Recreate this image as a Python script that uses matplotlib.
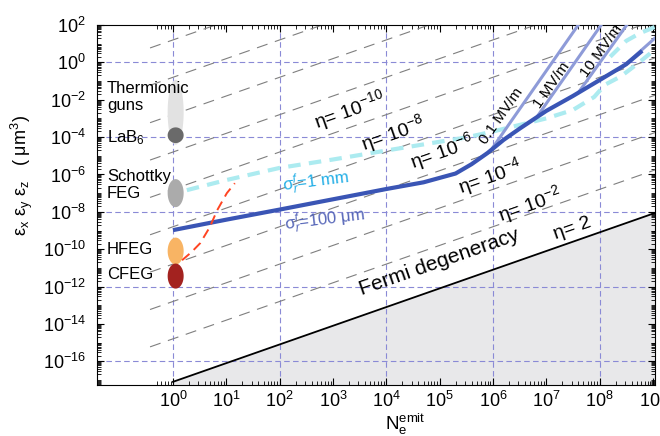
import numpy as np
import matplotlib.pyplot as plt
from matplotlib.ticker import FixedLocator, LogLocator, NullFormatter

plt.rcParams['font.family'] = ['Liberation Sans', 'DejaVu Sans']
plt.rcParams['mathtext.fontset'] = 'custom'
plt.rcParams['mathtext.rm'] = 'Liberation Sans'
plt.rcParams['mathtext.it'] = 'Liberation Sans:italic'
plt.rcParams['mathtext.bf'] = 'Liberation Sans:bold'

# all values are log10 exponents
# sigma_r = 100 um (thick blue)
blue_logN = [0, 1, 2, 3, 4, 4.7, 5.3, 5.6, 5.9, 6.2, 6.5, 7.0, 7.5, 8.0, 8.5, 8.8]
blue_logE = [-8.98, -8.42, -7.88, -7.33, -6.78, -6.42, -5.95, -5.45, -4.85,
             -4.15, -3.55, -2.6, -1.8, -0.95, -0.1, 0.62]

# sigma_r = 1 mm (cyan dashed)
cyan_logN = [0.26, 1, 2, 3, 4, 5, 5.5, 6.0, 6.5, 7.0, 7.5, 7.9, 8.1, 8.4, 8.7, 8.95]
cyan_logE = [-6.84, -6.3, -5.65, -5.2, -4.72, -4.25, -4.02, -3.7, -3.35, -3.0,
             -2.55, -1.85, -1.2, -0.75, -0.1, 0.48]
cyan2_logN = [8.2, 8.5, 8.75, 9.04]
cyan2_logE = [0.3, 1.15, 1.55, 1.9]

# extraction field lines (light blue)
field_names = ['0.1 MV/m', '1 MV/m', '10 MV/m', '']
field_logN = [[6.0, 7.6], [6.85, 8.03], [7.62, 8.51], [8.45, 9.04]]
field_logE = [[-4.55, 2.0], [-2.82, 2.0], [-1.55, 2.0], [-0.2, 1.3]]
field_label_pos = [(6.15, -2.89), (7.11, -1.23), (8.03, 0.64)]

# red dashed
red_logN = [0.17, 0.35, 0.51, 0.69, 0.83, 1.01, 1.16]
red_logE = [-10.59, -10.15, -9.68, -8.82, -7.91, -7.0, -6.47]

# degeneracy lines
fermi_logE0 = -17.1
eta_exps = [-2, -4, -6, -8, -10, -12, -14, -16, -18]
eta_texts = ['η= 10$^{-10}$', 'η= 10$^{-8}$', 'η= 10$^{-6}$',
             'η= 10$^{-4}$', 'η= 10$^{-2}$', 'η= 2']
eta_text_pos = [(3.32, -2.57), (4.13, -3.8), (5.04, -4.8),
                (5.94, -6.15), (6.69, -7.65), (7.5, -8.9)]

# electron sources
src_names = ['Thermionic\nguns', 'LaB$_6$', 'Schottky\nFEG', 'HFEG', 'CFEG']
src_logE = [-2.67, -3.9, -7.0, -10.1, -11.44]
src_half_h = [1.74, 0.42, 0.75, 0.72, 0.67]
src_colors = ['#e2e2e2', '#6a6a6a', '#ababab', '#f8b464', '#a3221f']
src_text_logE = [-1.87, -4.01, -6.58, -10.0, -11.34]

fig = plt.figure(figsize=(6.6, 4.36), dpi=100)
ax = fig.add_axes([97 / 660, 51 / 436, 558 / 660, 360 / 436])
ax.set_xscale('log')
ax.set_yscale('log')
ax.set_xlim(10**-1.425, 10**9.04)
ax.set_ylim(10**-17.27, 10**2.0)

def slope_angle(n1, e1, n2, e2):
    p1 = ax.transData.transform((10**n1, 10**e1))
    p2 = ax.transData.transform((10**n2, 10**e2))
    return np.degrees(np.arctan2(p2[1] - p1[1], p2[0] - p1[0]))

# grid
for gx in [0, 2, 4, 6, 8]:
    ax.axvline(10**gx, color='#8a8ad6', ls=(0, (5, 3)), lw=0.8, zorder=1)
for gy in [0, -4, -8, -12, -16]:
    ax.axhline(10**gy, color='#8a8ad6', ls=(0, (5, 3)), lw=0.8, zorder=1)

# Fermi degeneracy region
N = np.logspace(0, 9.04, 60)
ax.fill_between(N, 1e-20, 10**fermi_logE0 * N, color='#e8e8ea', zorder=0)
ax.plot(N, 10**fermi_logE0 * N, color='black', lw=1.3, zorder=3)

# eta lines
Ne = np.logspace(-0.43, 9.04, 60)
for e in eta_exps:
    ax.plot(Ne, 10**(fermi_logE0 + np.log10(2) - e) * Ne, color='#7f7f7f',
            lw=0.8, ls=(0, (10, 7)), zorder=2)

ang = slope_angle(0, 0, 1, 1)
for txt, (xn, ye) in zip(eta_texts, eta_text_pos):
    ax.text(10**xn, 10**ye, txt, fontsize=14, rotation=ang, rotation_mode='anchor',
            ha='center', va='center', zorder=6)
ax.text(10**5.0, 10**-10.7, 'Fermi degeneracy', fontsize=15, rotation=ang,
        rotation_mode='anchor', ha='center', va='center', zorder=6)

# sources
t = np.linspace(0, 2 * np.pi, 120)
for name, cy, hh, c, ty in zip(src_names, src_logE, src_half_h, src_colors, src_text_logE):
    ax.fill(10**(0.05 + 0.15 * np.cos(t)), 10**(cy + hh * np.sin(t)), color=c,
            lw=0, zorder=4)
    ax.text(10**-1.24, 10**ty, name, fontsize=12, ha='left', va='center',
            linespacing=1.2, zorder=6)

# curves
ax.plot(10**np.array(cyan_logN), 10**np.array(cyan_logE), color='#acebf0', lw=3,
        ls=(0, (3, 2)), zorder=4)
ax.plot(10**np.array(cyan2_logN), 10**np.array(cyan2_logE), color='#acebf0', lw=3,
        ls=(0, (3, 2)), zorder=4)
for xs, ys in zip(field_logN, field_logE):
    ax.plot(10**np.array(xs), 10**np.array(ys), color='#8e9bd8', lw=2.2, zorder=4)
ax.plot(10**np.array(blue_logN), 10**np.array(blue_logE), color='#3a55b5', lw=3,
        zorder=5, solid_capstyle='butt')
ax.plot(10**np.array(red_logN), 10**np.array(red_logE), color='#ff4422', lw=1.4,
        ls=(0, (5, 3)), zorder=5)

for name, xs, ys, (lx, ly) in zip(field_names, field_logN, field_logE, field_label_pos):
    a = slope_angle(xs[0], ys[0], xs[1], ys[1])
    ax.text(10**lx, 10**ly, name, fontsize=11, rotation=a, rotation_mode='anchor',
            ha='center', va='center', zorder=6)

ax.text(10**2.67, 10**-6.4, 'σ$_r^{f}$=1 mm', color='#22aee6', fontsize=12,
        rotation=7, rotation_mode='anchor', ha='center', va='center', zorder=6)
ax.text(10**2.85, 10**-8.45, 'σ$_r^{f}$=100 μm', color='#5565b8', fontsize=12,
        rotation=7, rotation_mode='anchor', ha='center', va='center', zorder=6)

# ticks
ax.xaxis.set_major_locator(FixedLocator([10.0**k for k in range(0, 10)]))
xminor = [k * 0.1 for k in range(5, 10)]
for d in range(0, 9):
    xminor += [k * 10.0**d for k in range(2, 10)]
ax.xaxis.set_minor_locator(FixedLocator(xminor))
ax.xaxis.set_minor_formatter(NullFormatter())
ax.yaxis.set_major_locator(FixedLocator([10.0**k for k in range(-16, 3, 2)]))
ax.yaxis.set_minor_locator(LogLocator(base=10, subs=np.arange(1, 10), numticks=60))
ax.yaxis.set_minor_formatter(NullFormatter())
ax.tick_params(which='both', direction='in', top=True, right=True, labelsize=13)
ax.tick_params(which='major', length=5)
ax.tick_params(which='minor', length=3)
ax.tick_params(axis='x', pad=4)
ax.tick_params(axis='y', pad=8)

fig.text(22 / 660, 1 - 176 / 436, 'ε$_\\mathrm{x}$ ε$_\\mathrm{y}$ ε$_\\mathrm{z}$   ( μm$^3$)',
         rotation=90, ha='center', va='center', fontsize=13)
fig.text(405 / 660, 1 - 424 / 436, 'N$_\\mathrm{e}^\\mathrm{emit}$', ha='center',
         va='center', fontsize=13.5)

fig.savefig('out.png', dpi=100)
